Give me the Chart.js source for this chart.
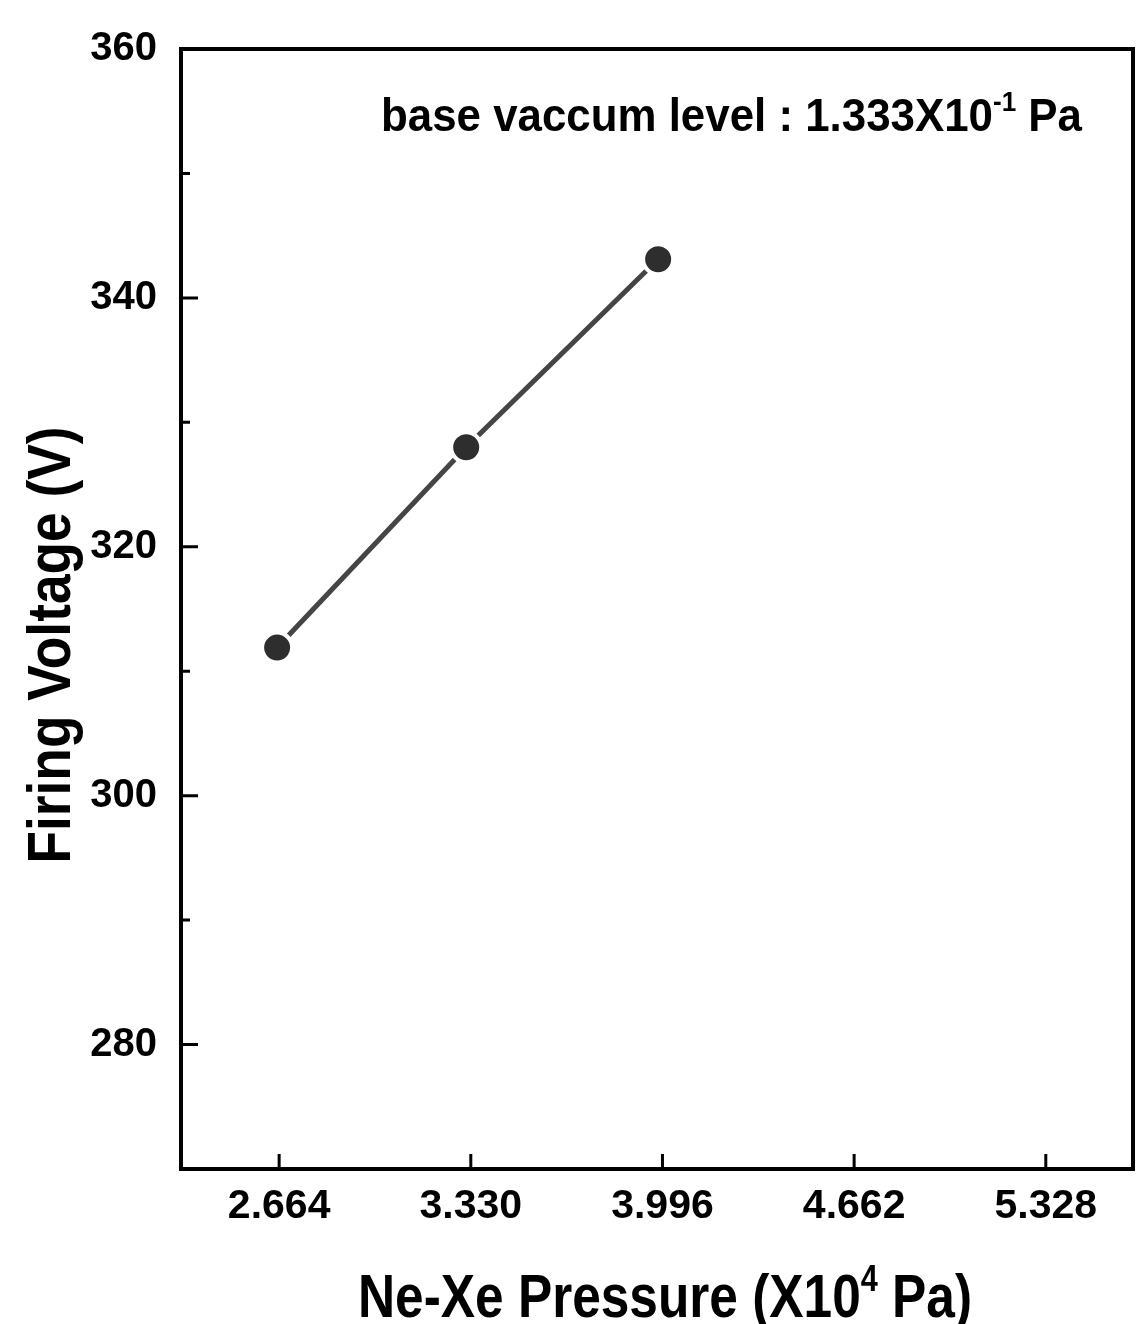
<!DOCTYPE html>
<html><head><meta charset="utf-8">
<script src="https://cdn.jsdelivr.net/npm/chart.js@4.4.1/dist/chart.umd.min.js"></script>
<style>html,body{margin:0;padding:0;background:#fff;overflow:hidden}#wrap{width:1136px;height:1324px;position:relative}#c{display:block}</style>
</head><body><div id="wrap"><canvas id="c"></canvas></div>
<script>
// ---- data ----
const pressure = [2.657, 3.314, 3.981];          // Ne-Xe pressure (x10^4 Pa)
const firingVoltage = [311.9, 328.0, 343.1];     // V
const xTickValues = [2.664, 3.330, 3.996, 4.662, 5.328];
const xTickLabels = ['2.664', '3.330', '3.996', '4.662', '5.328'];
const yTickValues = [270, 280, 290, 300, 310, 320, 330, 340, 350, 360];
const yMajorTicks = [280, 300, 320, 340, 360];
const xAxisTitle = [{t: 'Ne-Xe Pressure (X10'}, {t: '4', sup: true}, {t: ' Pa)'}];
const yAxisTitle = [{t: 'Firing Voltage (V)'}];
const annotationText = [{t: 'base vaccum level : 1.333X10'}, {t: '-1', sup: true}, {t: ' Pa'}];

const FAMILY = '"Liberation Sans", Arial, Helvetica, sans-serif';

function drawRich(ctx, segs, size, targetW, align) {
  const main = 'bold ' + size + 'px ' + FAMILY;
  const sup = 'bold ' + Math.round(size * 0.6) + 'px ' + FAMILY;
  let w = 0; const widths = [];
  segs.forEach(s => { ctx.font = s.sup ? sup : main; const m = ctx.measureText(s.t).width; widths.push(m); w += m; });
  const sx = targetW / w;
  ctx.save();
  ctx.scale(sx, 1);
  ctx.textAlign = 'left';
  ctx.textBaseline = 'alphabetic';
  let x = align === 'center' ? -w / 2 : 0;
  segs.forEach((s, i) => {
    ctx.font = s.sup ? sup : main;
    ctx.fillText(s.t, x, s.sup ? -size * 0.42 : 0);
    x += widths[i];
  });
  ctx.restore();
}

const framePlugin = {
  id: 'frame',
  afterDraw(chart) {
    const ctx = chart.ctx, a = chart.chartArea;
    const xs = chart.scales.x, ys = chart.scales.y;
    ctx.save();
    ctx.strokeStyle = '#000';
    ctx.lineWidth = 4;
    ctx.strokeRect(a.left, a.top, a.right - a.left, a.bottom - a.top);
    ctx.lineWidth = 3;
    ctx.beginPath();
    xs.ticks.forEach(t => {
      const px = xs.getPixelForValue(t.value);
      ctx.moveTo(px, a.bottom); ctx.lineTo(px, a.bottom - 15);
    });
    ys.ticks.forEach(t => {
      const py = ys.getPixelForValue(t.value);
      const len = yMajorTicks.includes(t.value) ? 17 : 9;
      ctx.moveTo(a.left, py); ctx.lineTo(a.left + len, py);
    });
    ctx.stroke();
    ctx.fillStyle = '#000';
    // annotation
    ctx.save(); ctx.translate(381, 131); drawRich(ctx, annotationText, 47, 701, 'left'); ctx.restore();
    // x title
    ctx.save(); ctx.translate(665, 1317); drawRich(ctx, xAxisTitle, 62, 614, 'center'); ctx.restore();
    // y title
    ctx.save(); ctx.translate(70, 645); ctx.rotate(-Math.PI / 2); drawRich(ctx, yAxisTitle, 62, 437, 'center'); ctx.restore();
    ctx.restore();
  }
};

new Chart(document.getElementById('c'), {
  type: 'line',
  data: {
    datasets: [{
      data: pressure.map((p, i) => ({x: p, y: firingVoltage[i]})),
      borderColor: '#454545',
      borderWidth: 5,
      pointRadius: 15,
      pointHoverRadius: 15,
      pointBackgroundColor: '#2e2e2e',
      pointBorderColor: '#ffffff',
      pointBorderWidth: 4,
      tension: 0,
      fill: false
    }]
  },
  options: {
    responsive: true,
    maintainAspectRatio: false,
    animation: false,
    layout: {autoPadding: false, padding: {top: 49, right: 3, left: 0, bottom: 0}},
    plugins: {legend: {display: false}, tooltip: {enabled: false}},
    scales: {
      x: {
        type: 'linear',
        min: 2.323, max: 5.631,
        grid: {display: false, drawTicks: false},
        border: {display: false},
        afterBuildTicks(s) { s.ticks = xTickValues.map(v => ({value: v})); },
        afterFit(s) { s.height = 155; s.paddingLeft = 0; s.paddingRight = 0; },
        ticks: {
          color: '#000',
          padding: 13,
          maxRotation: 0,
          font: {family: FAMILY, size: 41, weight: 'bold'},
          callback: (v, i) => xTickLabels[i]
        }
      },
      y: {
        type: 'linear',
        min: 270, max: 360,
        grid: {display: false, drawTicks: false},
        border: {display: false},
        afterBuildTicks(s) { s.ticks = yTickValues.map(v => ({value: v})); },
        afterFit(s) { s.width = 181; s.paddingTop = 0; s.paddingBottom = 0; },
        ticks: {
          color: '#000',
          padding: 24,
          font: {family: FAMILY, size: 40, weight: 'bold'},
          callback: v => yMajorTicks.includes(v) ? String(v) : ''
        }
      }
    }
  },
  plugins: [framePlugin]
});
</script>
</body></html>
